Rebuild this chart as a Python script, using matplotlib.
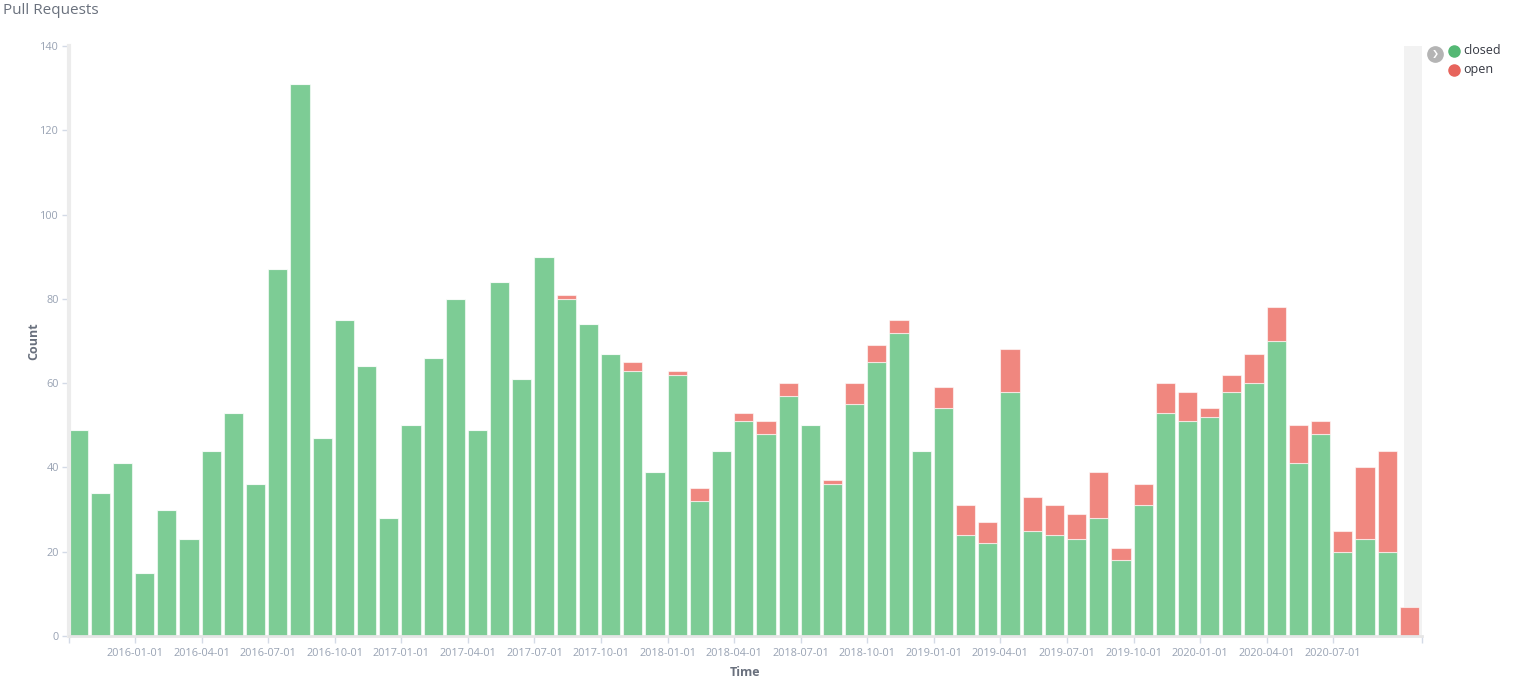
import numpy as np
import matplotlib.pyplot as plt
from matplotlib.lines import Line2D

# monthly buckets, 2015-10 .. 2020-10
months = ['2015-10', '2015-11', '2015-12',
          '2016-01', '2016-02', '2016-03', '2016-04', '2016-05', '2016-06',
          '2016-07', '2016-08', '2016-09', '2016-10', '2016-11', '2016-12',
          '2017-01', '2017-02', '2017-03', '2017-04', '2017-05', '2017-06',
          '2017-07', '2017-08', '2017-09', '2017-10', '2017-11', '2017-12',
          '2018-01', '2018-02', '2018-03', '2018-04', '2018-05', '2018-06',
          '2018-07', '2018-08', '2018-09', '2018-10', '2018-11', '2018-12',
          '2019-01', '2019-02', '2019-03', '2019-04', '2019-05', '2019-06',
          '2019-07', '2019-08', '2019-09', '2019-10', '2019-11', '2019-12',
          '2020-01', '2020-02', '2020-03', '2020-04', '2020-05', '2020-06',
          '2020-07', '2020-08', '2020-09', '2020-10']

closed = [49, 34, 41,
          15, 30, 23, 44, 53, 36,
          87, 131, 47, 75, 64, 28,
          50, 66, 80, 49, 84, 61,
          90, 80, 74, 67, 63, 39,
          62, 32, 44, 51, 48, 57,
          50, 36, 55, 65, 72, 44,
          54, 24, 22, 58, 25, 24,
          23, 28, 18, 31, 53, 51,
          52, 58, 60, 70, 41, 48,
          20, 23, 20, 0]

opened = [0, 0, 0,
          0, 0, 0, 0, 0, 0,
          0, 0, 0, 0, 0, 0,
          0, 0, 0, 0, 0, 0,
          0, 1, 0, 0, 2, 0,
          1, 3, 0, 2, 3, 3,
          0, 1, 5, 4, 3, 0,
          5, 7, 5, 10, 8, 7,
          6, 11, 3, 5, 7, 7,
          2, 4, 7, 8, 9, 3,
          5, 17, 24, 7]

tick_labels = ['2016-01-01', '2016-04-01', '2016-07-01', '2016-10-01',
               '2017-01-01', '2017-04-01', '2017-07-01', '2017-10-01',
               '2018-01-01', '2018-04-01', '2018-07-01', '2018-10-01',
               '2019-01-01', '2019-04-01', '2019-07-01', '2019-10-01',
               '2020-01-01', '2020-04-01', '2020-07-01']

series_names = ['closed', 'open']

green = '#7dcc95'
red = '#f0877f'
txt = '#98a2b3'

W, H = 1529, 687
fig = plt.figure(figsize=(W / 100, H / 100), dpi=100)
plt.rcParams['font.family'] = ['Open Sans', 'DejaVu Sans']

x0, x1, ytop, ybot = 68.5, 1422, 46, 636
ax = fig.add_axes([x0 / W, (H - ybot) / H, (x1 - x0) / W, (ybot - ytop) / H])

x = np.arange(len(months))
closed = np.array(closed)
opened = np.array(opened)

# grey band for partial bucket on the right
ax.axvspan(60.2, 61, color='#f2f2f2', zorder=0, lw=0)

ax.bar(x, closed, width=0.865, align='edge', color=green,
       edgecolor=(1, 1, 1, 0.6), linewidth=0.8, zorder=2)
ax.bar(x, opened, bottom=closed, width=0.865, align='edge', color=red,
       edgecolor=(1, 1, 1, 0.6), linewidth=0.8, zorder=2)

ax.set_xlim(0, len(months))
ax.set_ylim(0, 140)

ax.set_yticks(np.arange(0, 141, 20))
tick_pos = [months.index(t[:7]) for t in tick_labels]
ax.set_xticks(tick_pos)
ax.set_xticklabels(tick_labels)
ax.set_xticks([0, len(months)], minor=True)

ax.tick_params(axis='both', colors='#d3dae6', labelcolor=txt, labelsize=7.8,
               length=5, width=1)
ax.tick_params(axis='x', which='minor', colors='#d3dae6', length=5, width=1)
ax.tick_params(axis='y', pad=2)
ax.tick_params(axis='x', pad=4)

for s in ['top', 'right']:
    ax.spines[s].set_visible(False)
ax.spines['left'].set_color('#ececec')
ax.spines['left'].set_linewidth(3)
ax.spines['bottom'].set_color('#e6e6e6')
ax.spines['bottom'].set_linewidth(2)

ax.set_ylabel('Count', fontsize=9, fontweight='bold', color='#69707d', labelpad=0)
ax.set_xlabel('Time', fontsize=9, fontweight='bold', color='#69707d', labelpad=5)

fig.text(3 / W, 1 - 11 / H, 'Pull Requests', fontsize=11, color='#6a717d',
         va='center', ha='left')

# legend, placed by hand like the kibana one
fig.add_artist(Line2D([1435 / W], [1 - 54 / H], marker='o', ls='',
                      markersize=11, color='#b4b4b4'))
fig.text(1435.5 / W, 1 - 54 / H, '\u276F', fontsize=6, color='white',
         ha='center', va='center', fontweight='bold',
         family=['DejaVu Sans'])
dot_colors = ['#54b874', '#e7645c']
for i, (name, c) in enumerate(zip(series_names, dot_colors)):
    yy = 1 - (51 + 19 * i) / H
    fig.add_artist(Line2D([1454 / W], [yy], marker='o', ls='',
                          markersize=8, color=c))
    fig.text(1463.5 / W, yy, name, fontsize=9, color='#343741',
             ha='left', va='center')

fig.savefig('out.png', dpi=100)
